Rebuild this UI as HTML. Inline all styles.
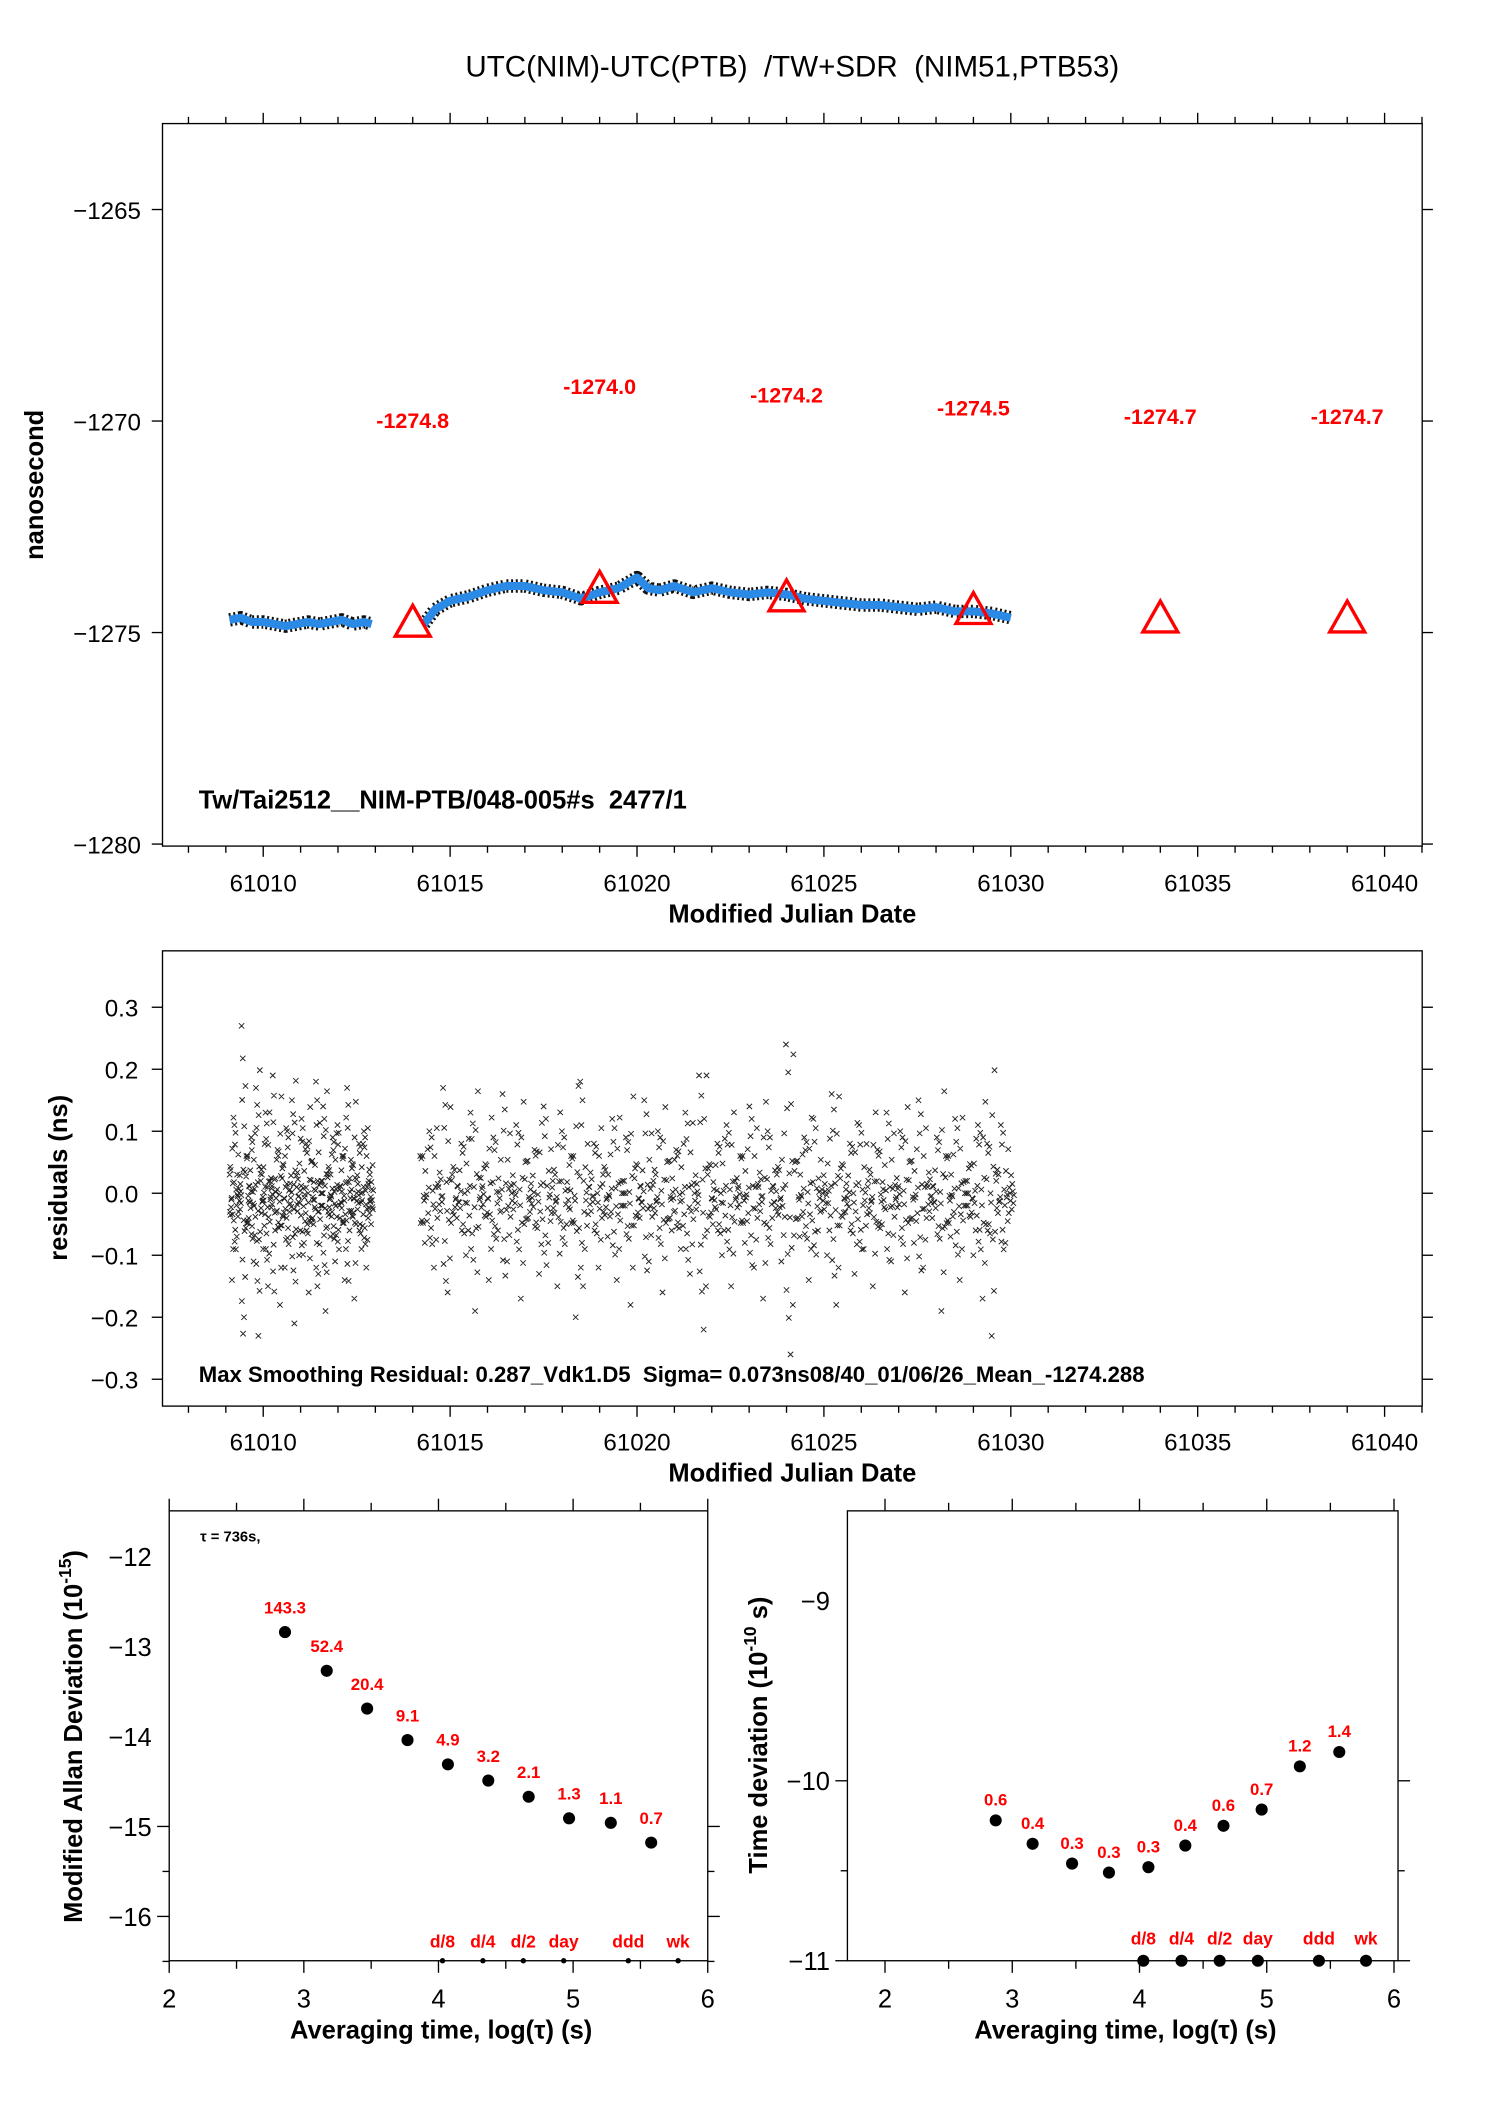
<!DOCTYPE html>
<html><head><meta charset="utf-8"><style>
html,body{margin:0;padding:0;background:#fff}
svg{display:block;font-family:"Liberation Sans",Arial,sans-serif}
text{white-space:pre}
</style></head><body>
<svg id="chart" width="1488" height="2105" viewBox="0 0 1108 1567.4" xmlns="http://www.w3.org/2000/svg">
<rect x="0" y="0" width="1108" height="1568" fill="#fff"/>
<text x="590" y="57" font-size="22" text-anchor="middle">UTC(NIM)-UTC(PTB)  /TW+SDR  (NIM51,PTB53)</text>
<g id="g1"></g>
<g id="g2"></g>
<g id="g3"></g>
<g id="g4"></g>
</svg>
<script>
// ---------- data ----------
const seriesMjd = [61009.1,61009.4,61009.7,61010.0,61010.3,61010.6,61010.9,61011.2,61011.5,61011.8,61012.1,61012.4,61012.7,61012.9];
const seriesVal = [-1274.7,-1274.65,-1274.75,-1274.75,-1274.8,-1274.85,-1274.8,-1274.75,-1274.8,-1274.75,-1274.7,-1274.8,-1274.75,-1274.8];
const series2Mjd = [61014.3,61014.6,61015.0,61015.5,61016.0,61016.5,61017.0,61017.5,61018.0,61018.5,61019.0,61019.5,61020.0,61020.3,61020.6,61021.0,61021.5,61022.0,61022.5,61023.0,61023.5,61024.0,61024.5,61025.0,61025.5,61026.0,61026.5,61027.0,61027.5,61028.0,61028.5,61029.0,61029.5,61030.0];
const series2Val = [-1274.8,-1274.45,-1274.25,-1274.15,-1274.0,-1273.9,-1273.9,-1274.0,-1274.05,-1274.2,-1274.05,-1273.95,-1273.7,-1273.95,-1274.0,-1273.9,-1274.05,-1273.95,-1274.05,-1274.1,-1274.05,-1274.1,-1274.2,-1274.25,-1274.3,-1274.35,-1274.35,-1274.4,-1274.45,-1274.4,-1274.5,-1274.5,-1274.55,-1274.65];
const markerMjd = [61014,61019,61024,61029,61034,61039];
const markerVal = [-1274.8,-1274.0,-1274.2,-1274.5,-1274.7,-1274.7];
const markerLabels = ["-1274.8","-1274.0","-1274.2","-1274.5","-1274.7","-1274.7"];
const mjdTicks = [61010,61015,61020,61025,61030,61035,61040];
const nsTicks = [-1265,-1270,-1275,-1280];
const resTicks = [0.3,0.2,0.1,0.0,-0.1,-0.2,-0.3];
const resTickLabels = ["0.3","0.2","0.1","0.0","\u22120.1","\u22120.2","\u22120.3"];
const residA = [0.05,-0.12,0.13,-0.05,0.02,0.29,-0.18,0.08,-0.02,0.11,-0.09,0.19,-0.21,0.04,-0.07,0.15,-0.13,0.01,0.21,-0.04,0.09,-0.16,0.06,-0.1,0.12,-0.01,0.17,-0.19,0.03,-0.08,0.14,-0.06,0.1,-0.14,0.07,-0.03,0.2,-0.11,0.0,0.16,-0.17,0.05,-0.05,0.11,-0.09,0.13,-0.02,0.08,-0.12,0.19,-0.04,0.06,-0.15,0.02,0.1,-0.07,0.12,-0.1,0.04,-0.03];
const residB = [0.08,-0.06,0.12,-0.1,0.03,0.19,-0.14,0.05,-0.02,0.1,-0.08,0.15,-0.17,0.01,0.06,-0.12,0.11,-0.04,0.18,-0.09,0.02,0.13,-0.15,0.07,-0.01,0.09,-0.11,0.16,-0.06,0.04,-0.13,0.12,-0.03,0.08,-0.18,0.2,-0.07,0.03,0.1,-0.1,0.05,-0.05,0.14,-0.12,0.0,0.11,-0.16,0.06,-0.02,0.17,-0.09,0.04,0.12,-0.14,0.07,-0.04,0.09,-0.07,0.15,-0.11,0.02,0.21,-0.2,0.06,-0.03,0.1,-0.08,0.13,-0.13,0.01,0.08,-0.06,0.16,-0.1,0.03,-0.15,0.12,-0.02,0.05,-0.09,0.26,-0.24,0.07,-0.05,0.11,-0.12,0.14,-0.04,0.02,-0.08,0.18,-0.16,0.06,-0.01,0.1,-0.11,0.13,-0.07,0.04,-0.13,0.09,-0.03,0.15,-0.09,0.01,0.12,-0.14,0.07,-0.06,0.17,-0.1,0.03,-0.02,0.11,-0.17,0.08,-0.05,0.14,-0.12,0.0,0.06,-0.08,0.13,-0.15,0.1,-0.21,0.04,0.13,-0.06,0.02];
const adevLogTau = [2.86,3.17,3.47,3.77,4.07,4.37,4.67,4.97,5.28,5.58];
const adevVal = [-12.84,-13.27,-13.69,-14.04,-14.31,-14.49,-14.67,-14.91,-14.96,-15.18];
const adevLabels = ["143.3","52.4","20.4","9.1","4.9","3.2","2.1","1.3","1.1","0.7"];
const tdevLogTau = [2.87,3.16,3.47,3.76,4.07,4.36,4.66,4.96,5.26,5.57];
const tdevVal = [-10.22,-10.35,-10.46,-10.51,-10.48,-10.36,-10.25,-10.16,-9.92,-9.84];
const tdevLabels = ["0.6","0.4","0.3","0.3","0.3","0.4","0.6","0.7","1.2","1.4"];
const spanLogTau = [4.03,4.33,4.63,4.93,5.41,5.78];
const spanLabels = ["d/8","d/4","d/2","day","ddd","wk"];
const logTicks = [2,3,4,5,6];
const adevTicks = [-12,-13,-14,-15,-16];
const tdevTicks = [-9,-10,-11];

// ---------- helpers ----------
const NS="http://www.w3.org/2000/svg";
function mk(parent,tag,attrs,text){const e=document.createElementNS(NS,tag);for(const k in attrs)e.setAttribute(k,attrs[k]);if(text!==undefined)e.textContent=text;parent.appendChild(e);return e;}
function lin(d0,d1,r0,r1){return v=>r0+(v-d0)*(r1-r0)/(d1-d0);}

// ---------- panel 1 ----------
(function(){
const g=document.getElementById('g1');
const L=121,R=1059,T=92,B=630;
const x=lin(61010,61040,196,1031), y=lin(-1265,-1275,156,471);
let e=mk(g,'rect',{x:L,y:T,width:R-L,height:B-T,fill:'none',stroke:'#000','stroke-width':1});

for(let d=61008;d<=61041;d++){const X=x(d);if(X<L||X>R)continue;const maj=d%5===0;const len=maj?8:5;
mk(g,'line',{x1:X,x2:X,y1:T,y2:T-len,stroke:'#000'});mk(g,'line',{x1:X,x2:X,y1:B,y2:B+len,stroke:'#000'});}
mjdTicks.forEach(t=>{e=mk(g,'text',{x:x(t),y:B+34,'font-size':18,'text-anchor':'middle'},String(t));
});
nsTicks.forEach(t=>{const Y=y(t);mk(g,'line',{x1:L-8,x2:L,y1:Y,y2:Y,stroke:'#000'});mk(g,'line',{x1:R,x2:R+8,y1:Y,y2:Y,stroke:'#000'});
e=mk(g,'text',{x:L-16,y:Y+7,'font-size':18,'text-anchor':'end'},'\u2212'+Math.abs(t));
});
e=mk(g,'text',{x:0,y:0,'font-size':19,'font-weight':'bold','text-anchor':'middle',transform:'translate(32,361) rotate(-90)'},'nanosecond');

e=mk(g,'text',{x:590,y:687,'font-size':19,'font-weight':'bold','text-anchor':'middle'},'Modified Julian Date');

[[seriesMjd,seriesVal],[series2Mjd,series2Val]].forEach(([m,v])=>{
const pts=m.map((d,i)=>x(d)+','+y(v[i])).join(' ');
mk(g,'polyline',{points:pts,fill:'none',stroke:'#111','stroke-width':10,'stroke-linejoin':'round','stroke-dasharray':'1.5 2'});
e=mk(g,'polyline',{points:pts,fill:'none',stroke:'#2b8ae6','stroke-width':6,'stroke-linejoin':'round'});
});
markerMjd.forEach((d,i)=>{const X=x(d),Y=y(markerVal[i]);
e=mk(g,'polygon',{points:`${X},${Y-14} ${X-13},${Y+9} ${X+13},${Y+9}`,fill:'none',stroke:'#f00','stroke-width':2.5});

e=mk(g,'text',{x:X,y:Y-146,'font-size':16,'font-weight':'bold',fill:'#f00','text-anchor':'middle'},markerLabels[i]);
});
e=mk(g,'text',{x:148,y:602,'font-size':19,'font-weight':'bold'},'Tw/Tai2512__NIM-PTB/048-005#s  2477/1');

})();

// ---------- panel 2 ----------
(function(){
const g=document.getElementById('g2');
const L=121,R=1059,T=708,B=1047;
const x=lin(61010,61040,196,1031), y=lin(0.3,-0.3,750,1027);
let e=mk(g,'rect',{x:L,y:T,width:R-L,height:B-T,fill:'none',stroke:'#000'});

for(let d=61008;d<=61041;d++){const X=x(d);if(X<L||X>R)continue;const maj=d%5===0;const len=maj?8:5;
mk(g,'line',{x1:X,x2:X,y1:B,y2:B+len,stroke:'#000'});}
mjdTicks.forEach(t=>{e=mk(g,'text',{x:x(t),y:B+33,'font-size':18,'text-anchor':'middle'},String(t));
});
resTicks.forEach((t,i)=>{const Y=y(t);mk(g,'line',{x1:L-8,x2:L,y1:Y,y2:Y,stroke:'#000'});mk(g,'line',{x1:R,x2:R+8,y1:Y,y2:Y,stroke:'#000'});
e=mk(g,'text',{x:L-18,y:Y+7,'font-size':18,'text-anchor':'end'},resTickLabels[i]);
});
e=mk(g,'text',{x:0,y:0,'font-size':19,'font-weight':'bold','text-anchor':'middle',transform:'translate(50,877) rotate(-90)'},'residuals (ns)');

e=mk(g,'text',{x:590,y:1103,'font-size':19,'font-weight':'bold','text-anchor':'middle'},'Modified Julian Date');

const mult=[1,-0.6,0.45,-0.3,0.75,-0.85,0.2,-0.15];
function scatter(arr,d0,d1){const n=arr.length;let p='';arr.forEach((v,i)=>{
 for(let k=0;k<mult.length;k++){const d=d0+(d1-d0)*((i+k/mult.length)/n);const vv=v*mult[k]+(k%3-1)*0.02;
 const X=x(d),Y=y(vv);p+=`M${X-2},${Y-2}L${X+2},${Y+2}M${X-2},${Y+2}L${X+2},${Y-2}`;}});
 e=mk(g,'path',{d:p,stroke:'#222','stroke-width':0.7,fill:'none'});
 }
scatter(residA,61009.1,61012.95);
scatter(residB,61014.2,61030.1);
e=mk(g,'text',{x:148,y:1029,'font-size':16.5,'font-weight':'bold'},'Max Smoothing Residual: 0.287_Vdk1.D5  Sigma= 0.073ns08/40_01/06/26_Mean_-1274.288');

})();

// ---------- stability panels ----------
function stab(gid,L,R,x2,x6,yA,vA,yB,vB,xv,yv,labs,yTicks,spanY,spanR,big){
const g=document.getElementById(gid);const T=1125,B=1460;
const x=lin(2,6,x2,x6), y=lin(vA,vB,yA,yB);
let e=mk(g,'rect',{x:L,y:T,width:R-L,height:B-T,fill:'none',stroke:'#000'});

for(let v=1.5;v<=6;v+=0.5){const X=x(v);if(X<L-1||X>R+1)continue;const len=(v%1===0)?9:6;
mk(g,'line',{x1:X,x2:X,y1:T,y2:T-len,stroke:'#000'});mk(g,'line',{x1:X,x2:X,y1:B,y2:B+len,stroke:'#000'});}
logTicks.forEach(t=>{e=mk(g,'text',{x:x(t),y:B+35,'font-size':19,'text-anchor':'middle'},String(t));
});
for(let v=Math.ceil(Math.min(vA,vB))+1;v>=-17;v-=0.5){const Y=y(v);if(Y<T-1||Y>B+1)continue;
 const maj=Math.abs(v-Math.round(v))<1e-6;const len=maj?9:5;
 mk(g,'line',{x1:L-len,x2:L,y1:Y,y2:Y,stroke:'#000'});mk(g,'line',{x1:R,x2:R+len,y1:Y,y2:Y,stroke:'#000'});}
yTicks.forEach(t=>{e=mk(g,'text',{x:L-13,y:y(t)+7,'font-size':19,'text-anchor':'end'},'\u2212'+Math.abs(t));
});
xv.forEach((v,i)=>{const X=x(v),Y=y(yv[i]);
e=mk(g,'circle',{cx:X,cy:Y,r:4.5,fill:'#000'});

e=mk(g,'text',{x:X,y:Y-(big?11:14),'font-size':12.5,'font-weight':'bold',fill:'#f00','text-anchor':'middle'},labs[i]);
});
spanLogTau.forEach((v,i)=>{const X=x(v);
e=mk(g,'circle',{cx:X,cy:spanY,r:spanR,fill:'#000'});

e=mk(g,'text',{x:X,y:spanY-(big?12:10),'font-size':13,'font-weight':'bold',fill:'#f00','text-anchor':'middle'},spanLabels[i]);
});
e=mk(g,'text',{x:(L+R)/2+2,y:1518,'font-size':19,'font-weight':'bold','text-anchor':'middle'},'Averaging time, log(\u03C4) (s)');

return {g,x,y};}

(function(){
const r=stab('g3',126,527,126,527,1159,-12,1427,-16,adevLogTau,adevVal,adevLabels,adevTicks,1460,2,false);
let e=mk(r.g,'text',{x:0,y:0,'font-size':19,'font-weight':'bold','text-anchor':'middle',transform:'translate(61,1293) rotate(-90)'});
e.innerHTML='Modified Allan Deviation (10<tspan dy="-8" font-size="13">-15</tspan><tspan dy="8">)</tspan>';

e=mk(r.g,'text',{x:149,y:1148,'font-size':11,'font-weight':'bold'},'\u03C4 = 736s,');

})();
(function(){
const r=stab('g4',631,1041,659,1038,1192,-9,1460,-11,tdevLogTau,tdevVal,tdevLabels,tdevTicks,1460,4.5,true);
let e=mk(r.g,'text',{x:0,y:0,'font-size':19,'font-weight':'bold','text-anchor':'middle',transform:'translate(571,1292) rotate(-90)'});
e.innerHTML='Time deviation (10<tspan dy="-8" font-size="13">-10</tspan><tspan dy="8"> s)</tspan>';

})();
</script>
</body></html>
